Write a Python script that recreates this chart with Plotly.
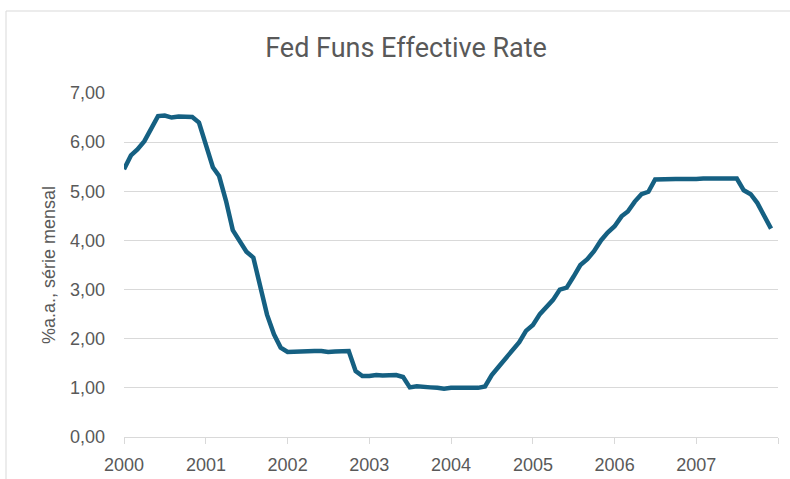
import plotly.graph_objects as go

dates = [f"{y}-{m:02d}-01" for y in range(2000, 2008) for m in range(1, 13)]
rate = [
    5.45, 5.73, 5.85, 6.02, 6.27, 6.53, 6.54, 6.50, 6.52, 6.51, 6.51, 6.40,
    5.98, 5.49, 5.31, 4.80, 4.21, 3.97, 3.77, 3.65, 3.07, 2.49, 2.09, 1.82,
    1.73, 1.74, 1.73, 1.75, 1.75, 1.75, 1.73, 1.74, 1.75, 1.75, 1.34, 1.24,
    1.24, 1.26, 1.25, 1.26, 1.26, 1.22, 1.01, 1.03, 1.01, 1.01, 1.00, 0.98,
    1.00, 1.01, 1.00, 1.00, 1.00, 1.03, 1.26, 1.43, 1.61, 1.76, 1.93, 2.16,
    2.28, 2.50, 2.63, 2.79, 3.00, 3.04, 3.26, 3.50, 3.62, 3.78, 4.00, 4.16,
    4.29, 4.49, 4.59, 4.79, 4.94, 4.99, 5.24, 5.25, 5.25, 5.25, 5.25, 5.24,
    5.25, 5.26, 5.26, 5.25, 5.25, 5.25, 5.26, 5.02, 4.94, 4.76, 4.49, 4.24,
]
x_tickvals = [f"{y}-01-01" for y in range(2000, 2009)]
x_ticktext = [str(y) for y in range(2000, 2008)] + [""]
y_tickvals = [0, 1, 2, 3, 4, 5, 6, 7]

title_text = "Fed Funs Effective Rate"
y_title = "%a.a., série mensal"

grey = "#595959"
gridc = "#D9D9D9"

fig = go.Figure()
fig.add_trace(go.Scatter(
    x=dates, y=rate, mode="lines",
    line=dict(color="#156082", width=4.5),
    hoverinfo="skip", showlegend=False,
))

fig.update_layout(
    width=790, height=479,
    margin=dict(l=124, r=12, t=93, b=42, autoexpand=False),
    paper_bgcolor="white", plot_bgcolor="white",
    separators=",.",
    font=dict(family="Liberation Sans, Arial, sans-serif", size=18, color=grey),
    title=dict(
        text=title_text, x=0.514, xanchor="center", y=1 - 48 / 479, yanchor="middle",
        font=dict(family="Liberation Sans Narrow, Roboto, sans-serif", size=27, color=grey),
    ),
    xaxis=dict(
        type="date", automargin=False,
        range=["2000-01-01", "2008-01-01"],
        tickmode="array", tickvals=x_tickvals, ticktext=x_ticktext,
        showgrid=False, showline=True, linecolor=gridc, linewidth=1,
        ticks="outside", ticklen=6, tickcolor=gridc, tickwidth=1,
        ticklabelstandoff=5,
        zeroline=False,
    ),
    yaxis=dict(
        range=[0, 7], tickmode="array", tickvals=y_tickvals, tickformat=".2f",
        automargin=False,
        showgrid=True, gridcolor=gridc, gridwidth=1,
        showline=False, zeroline=False, ticks="",
        ticklabelstandoff=18,
        title=dict(text=y_title, standoff=9, font=dict(size=18, color=grey)),
    ),
    shapes=[dict(
        type="rect", xref="paper", yref="paper",
        x0=(6 - 124) / 654, x1=1.2, y0=-0.5, y1=(437 - 11) / 344,
        line=dict(color=gridc, width=1), fillcolor="rgba(0,0,0,0)", layer="below",
    )],
)

fig.write_html("out.html")
